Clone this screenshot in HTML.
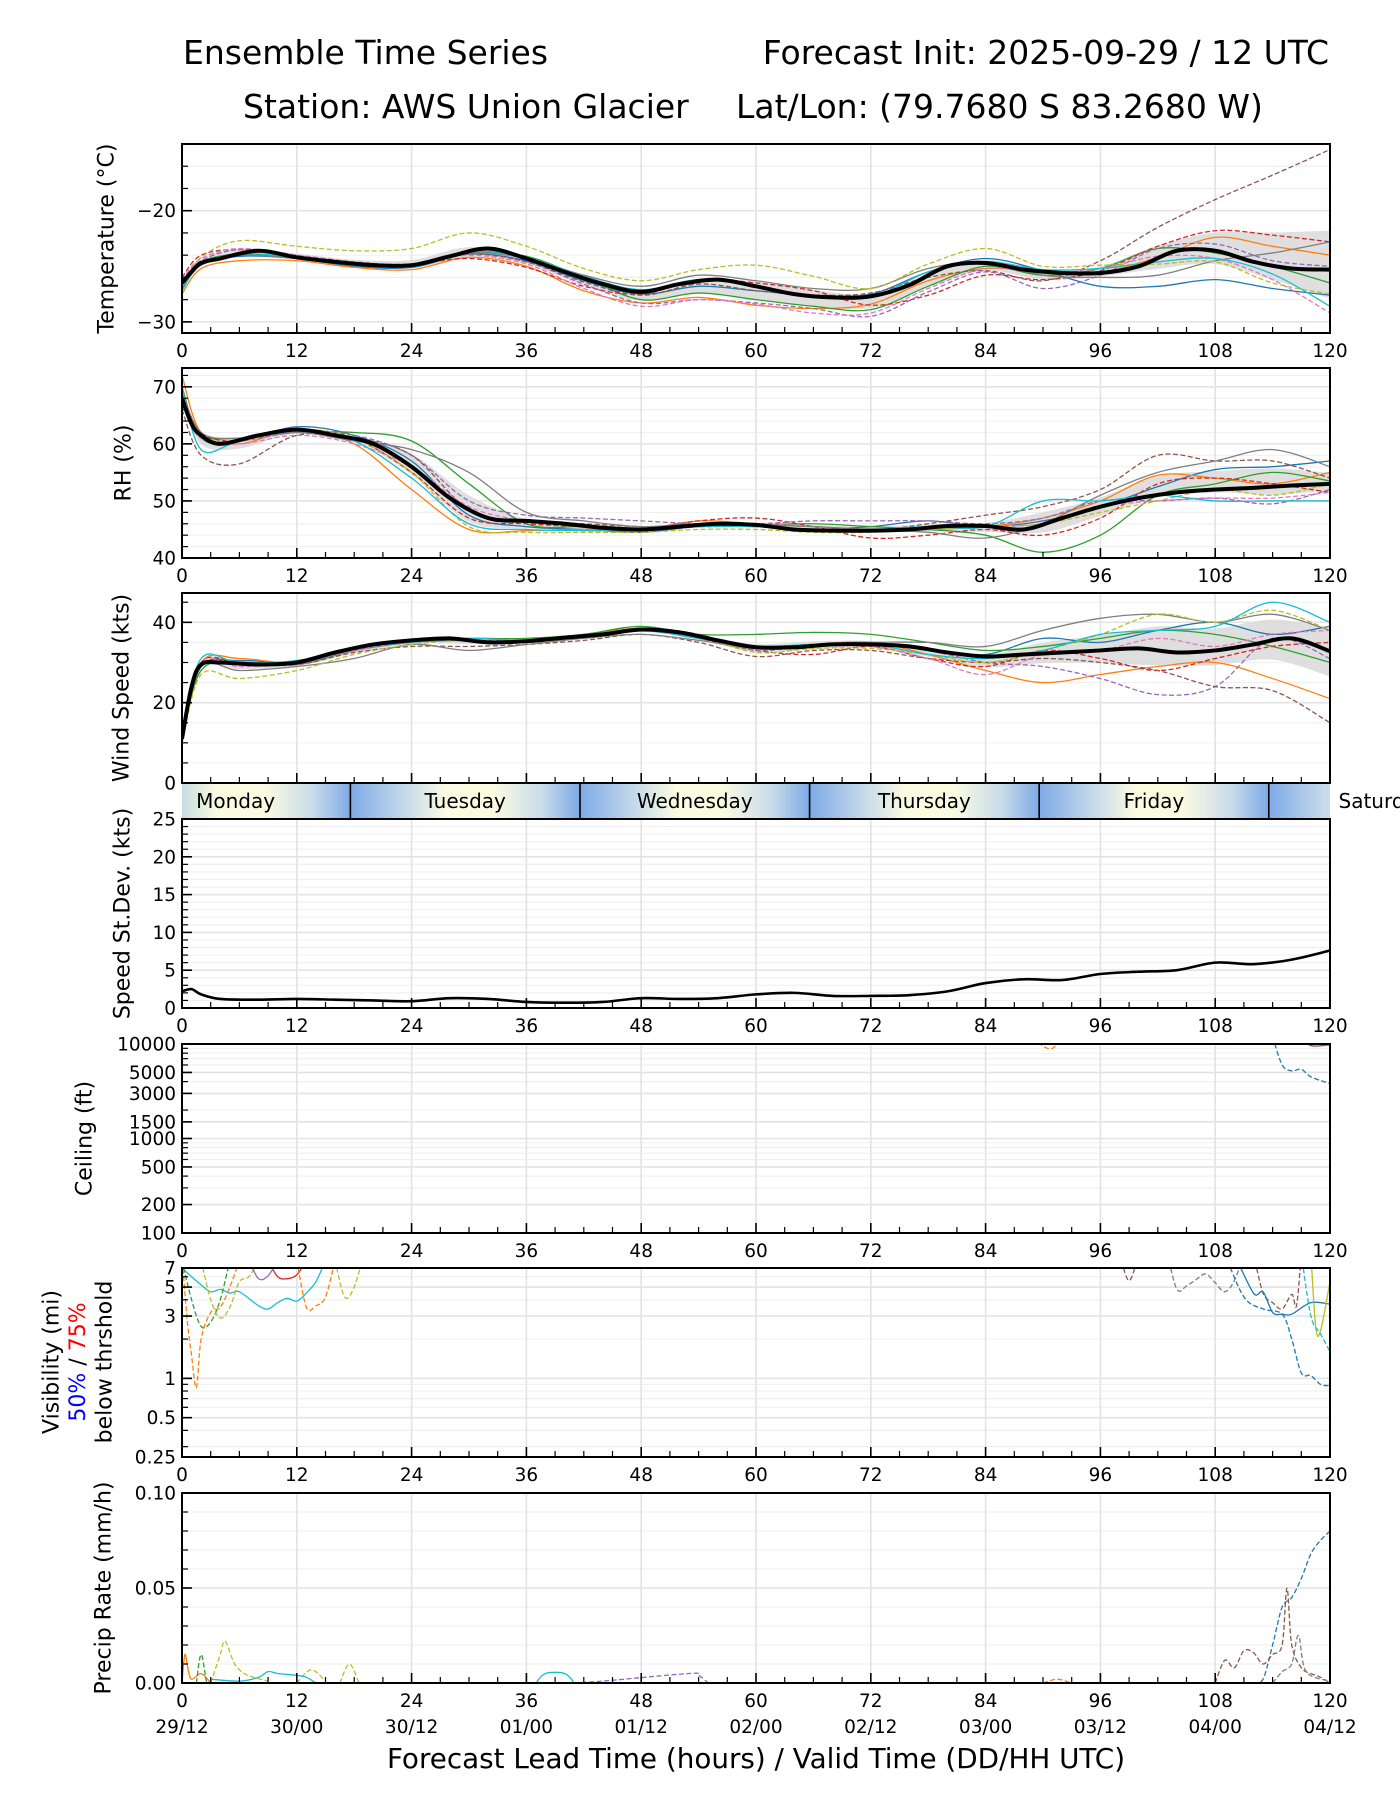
<!DOCTYPE html>
<html><head><meta charset="utf-8"><style>
html,body{margin:0;padding:0;background:#fff;}
svg{display:block;font-family:"DejaVu Sans","Liberation Sans",sans-serif;}
</style></head><body>
<svg id="fig" width="1400" height="1800" viewBox="0 0 1400 1800" xmlns="http://www.w3.org/2000/svg">
<defs>
<linearGradient id="dayGrad" gradientUnits="userSpaceOnUse" x1="182" y1="0" x2="1330" y2="0"></linearGradient>
</defs>
<text x="183" y="64" font-size="33">Ensemble Time Series</text>
<text x="1329" y="64" font-size="33" text-anchor="end">Forecast Init: 2025-09-29 / 12 UTC</text>
<text x="243" y="118" font-size="33">Station: AWS Union Glacier</text>
<text x="736" y="118" font-size="33">Lat/Lon: (79.7680 S 83.2680 W)</text>
<text x="756" y="1768" font-size="27.8" text-anchor="middle">Forecast Lead Time (hours) / Valid Time (DD/HH UTC)</text>
</svg>
<script>
// ---------- data ----------
const xTickHours = [0,12,24,36,48,60,72,84,96,108,120];
const dateLabels = ["29/12","30/00","30/12","01/00","01/12","02/00","02/12","03/00","03/12","04/00","04/12"];
const dayNames = ["Monday","Tuesday","Wednesday","Thursday","Friday","Saturday"];
const dayBoundaries = [17.6,41.6,65.6,89.6,113.6];
const meanHours = [0,1,2,4,8,12,16,20,24,28,32,36,40,44,48,52,56,60,64,68,72,76,80,84,88,92,96,100,104,108,112,116,120];
const memberHours = [0,2,6,12,18,24,30,36,42,48,54,60,66,72,78,84,90,96,102,108,114,120];
const memberColors = ["#1f77b4","#ff7f0e","#2ca02c","#d62728","#9467bd","#8c564b","#e377c2","#7f7f7f","#bcbd22","#17becf"];
const memberDashed = [false,false,false,true,true,true,true,false,true,false];

const tempMean = [-26.5,-25.5,-24.7,-24.3,-23.6,-24.2,-24.6,-24.9,-24.9,-24.1,-23.4,-24.3,-25.5,-26.6,-27.3,-26.6,-26.2,-26.8,-27.5,-27.8,-27.7,-26.7,-25.0,-24.7,-25.3,-25.6,-25.6,-25.0,-23.6,-23.6,-24.6,-25.2,-25.3];
const tempM0 = [-27,-24.9,-24.1,-24.3,-25,-25.1,-23.9,-24.5,-26.3,-27.5,-26.8,-27.2,-27.6,-27.5,-25.5,-24.3,-25.4,-26.8,-26.8,-26.2,-27.0,-27.6];
const tempM1 = [-27.5,-25.2,-24.5,-24.5,-25.1,-25.3,-24.2,-25,-27.2,-28.3,-27.8,-28.5,-28.8,-28.4,-26.3,-25.2,-25.4,-25.5,-24.2,-22.4,-23.2,-24.0];
const tempM2 = [-26.5,-24.6,-23.9,-24.2,-24.7,-24.8,-23.7,-24.1,-26.0,-28.0,-27.4,-28.0,-28.6,-28.9,-26.8,-25.0,-25.8,-25.2,-23.4,-23.8,-25.0,-26.5];
const tempM3 = [-26,-24,-23.5,-24.1,-24.7,-24.8,-24.3,-25.1,-26.8,-27.5,-26.2,-26.5,-27.2,-28.5,-27.6,-25.8,-26.2,-25.4,-23.2,-21.8,-22.2,-22.8];
const tempM4 = [-26.3,-24.5,-23.5,-24.0,-24.6,-24.8,-23.8,-24.6,-26.6,-28.3,-28.0,-28.3,-28.8,-29.5,-27.3,-25.5,-27.0,-25.8,-23.4,-23.0,-24.5,-25.0];
const tempM5 = [-26.5,-24.8,-24,-24.3,-24.9,-25,-23.9,-24.6,-26.4,-27.6,-26.6,-27.2,-27.6,-27.4,-26.0,-25.4,-26.3,-24.5,-21.5,-19.0,-16.8,-14.5];
const tempM6 = [-26.2,-24.3,-23.4,-24,-24.7,-24.8,-24.0,-24.8,-27.0,-28.6,-28.0,-28.4,-29.2,-29.2,-27.0,-25.2,-25.6,-25.2,-24.1,-24.3,-26.2,-29.2];
const tempM7 = [-26.5,-24.7,-24,-24.3,-24.9,-25,-23.8,-24.3,-25.8,-26.8,-25.8,-26.3,-27.0,-27.0,-25.2,-24.6,-25.8,-26.0,-25.8,-24.5,-23.8,-22.8];
const tempM8 = [-26.8,-24.2,-22.7,-23.2,-23.6,-23.4,-22.0,-23.2,-25.2,-26.3,-25.3,-24.9,-25.9,-27.0,-24.8,-23.4,-25.0,-24.9,-24.8,-24.6,-26.5,-27.5];
const tempM9 = [-27.2,-24.8,-23.9,-24.2,-24.9,-25.0,-23.7,-24.2,-25.9,-27.1,-26.2,-26.8,-27.7,-27.8,-25.5,-24.6,-25.3,-25.2,-24.6,-24.3,-25.7,-28.6];

const rhMean = [68,63.5,61.5,60,61.5,62.5,61.5,60,56,50.5,47,46.5,46,45.3,45.0,45.5,46,45.8,45,44.8,44.8,45,45.6,45.6,45,47,49,50.5,51.5,52,52.3,52.7,53];
const rhM0 = [70,61,60.5,63,61.5,57,47.5,45.5,45,44.5,45.5,45.5,45,45.5,46.5,45.5,46.5,49,52.5,55.5,56,57];
const rhM1 = [72,62,60,62.5,60,52,45,44.8,45,45,46.5,46,45.5,45,45,45.5,47,50,54.5,54,53,55];
const rhM2 = [67,61.5,61,62,62,60.5,53,46,45.5,45,45.5,45.8,46,45.5,45,44,41,44,51,53,55,53.5];
const rhM3 = [69,62,60.5,62.5,61,55,47,46,45.5,45,46.5,47,45.5,43.5,44,45,44,47,53,54,53,51.5];
const rhM4 = [67,61,60.5,62,61.5,58,50,47.5,47,46.5,46,46,46.5,46.5,46.5,46,47,50,50,50.5,49.5,52];
const rhM5 = [66,58,56.5,61.5,61,58,48.5,46.5,46,45.5,45.5,45.5,45,44.8,46,47.5,49,52,58,57,57,54];
const rhM6 = [68,61,60,61.5,60,56,49,46.5,45.5,45,45.5,46,45.5,45,45,45.5,46,49,50,50.5,50.5,51.5];
const rhM7 = [69,62,61,62,60.5,59,55,48,46.5,45.5,46,45.8,45.5,45,44.5,43.5,46,51,55,57,59,56];
const rhM8 = [68,61.5,60.5,62.5,61,55,45.5,44.5,44.5,44.5,45,45,44.5,44.5,45,45.5,46,48,50,52,51,53];
const rhM9 = [70,59,60.5,62.5,60.5,54,46,45,44.8,44.8,45.5,45.5,45,45,45.5,45.5,50,50,51,50,50,50];

const windMean = [11,24,29.5,30,29.5,30,32.5,34.5,35.5,36,35,35.3,36.2,37,38.2,37.5,35.5,33.8,33.8,34.5,34.5,34,32.5,31.5,32,32.5,33,33.5,32.5,33,34.5,36,32.8];
const windM0 = [12,29,30.5,30,33,35,35.5,35,36.5,38,36,34,34.5,35,33,32,36,35,38,40,37,39];
const windM1 = [10,30,31,30,33.5,35.5,36,35.5,37,38.5,36.5,34,34.5,35,32,28,25,27,29,30,26,21];
const windM2 = [11,28,30,29.5,33,35.5,36,36,37,39,37,37,37.5,37,35,33,34,36,38,37,34,30];
const windM3 = [12,30,30,30,33.5,35.5,35.5,35,36.5,38,36,33,32,34,31,29,33,31,28,31,34,35];
const windM4 = [11,29,29.5,29.5,33,35.5,35.5,35.5,36.5,38.5,37,33,34.5,34.5,33,30,29,26,22,24,36,31];
const windM5 = [10,29,30,29.5,32.5,34,34,34.5,35.5,37,35,31.5,33,33,31,30,31,30,28,24,23,15];
const windM6 = [11,30,29,30,33,35,36,35.5,36.5,38,36.5,33.5,34,34,31,27,32,33,36,34,37,38];
const windM7 = [11,29,28,29,31,34.5,33,34.5,36,37,35.5,33.5,34.5,35,35,34,38,41,42,40,42,38];
const windM8 = [10,27,26,28,32,34.5,35.5,35,36.5,38.5,36.5,32.5,33.5,33.5,32,30,33,37,42,40,43,38];
const windM9 = [12,31,30,30.5,33.5,35,36,35.5,36.5,38,36,34,34.5,34.5,32,31,33,37,38,39,45,40];

const sdValues = [2.2,2.5,1.8,1.2,1.1,1.2,1.1,1.0,0.9,1.3,1.2,0.8,0.7,0.8,1.3,1.2,1.3,1.8,2.0,1.6,1.6,1.7,2.2,3.3,3.8,3.7,4.5,4.8,5.0,6.0,5.8,6.4,7.6];

const ceilOrange = [[89,12000],[90,9500],[91,9000],[92,12000]];
const ceilGray = [[108,12000],[109,9800],[110,12000]];
const ceilBlue = [[114,12000],[115,6000],[116,5200],[117,5400],[118,4500],[120,3800]];
const ceilBrown = [[117,12000],[118,9600],[120,9800]];

const visCyan = [[0,7],[1,6],[2,5.2],[3,4.6],[4,4.8],[5,4.5],[6,4.6],[8,3.6],[9,3.4],[10,3.8],[11,4.1],[12,3.9],[13,4.5],[14,5.5],[15,8]];
const visOrange = [[0,9],[0.5,3],[1,1.5],[1.5,0.85],[2,2],[3,3.2],[4,3.5],[5,5],[6,8]];
const visGreen = [[0,8],[1,4],[2,2.5],[3,2.7],[4,4],[5,8]];
const visOlive = [[2,8],[3,4],[4,2.9],[5,3.5],[6,5.5],[7,6],[8,8]];
const visOlive2 = [[16,8],[17,4.2],[18,5],[19,9]];
const visRed = [[9,8],[10,6],[11,5.8],[12,6.2],[13,8]];
const visOrange2 = [[12,8],[13,3.5],[14,3.6],[15,4.2],[16,8]];
const visPurple = [[7,8],[8,5.8],[9,6.1],[10,8]];
const visBrown = [[98,9],[99,5.6],[100,9]];
const visGray = [[103,9],[104,4.8],[105,5.1],[106,5.7],[107,6.3],[108,5.4],[109,4.6],[110,5.6],[111,9]];
const visBrown2 = [[112,9],[113,4.5],[114,3.8],[115,3.4],[116,4.4],[116.5,3.6],[117,9]];
const visBlue = [[110,9],[112,4.5],[113,4.6],[114,3.2],[115,3.1],[116,3.1],[118,3.8],[120,3.7]];
const visBlueDash = [[109,9],[111,4.2],[113,3.4],[115,3.1],[116,2],[117,1.1],[118,1.05],[119,0.9],[120,0.88]];
const visOliveSolid = [[118,9],[118.5,2.5],[119,2.3],[120,5.5]];
const visCyanDash = [[117,9],[118,3],[119,2.2],[120,1.6]];

const prBlue = [[112,0],[113,0.002],[114,0.02],[115,0.04],[116,0.045],[117,0.055],[118,0.068],[119,0.075],[120,0.08]];
const prBrown = [[108,0],[109,0.012],[110,0.008],[111,0.017],[112,0.016],[113,0.01],[114,0.015],[115,0.02],[115.5,0.05],[116,0.02],[117,0.008],[118,0.005],[119,0.003],[120,0]];
const prGray = [[114,0],[115,0.006],[116,0.01],[116.7,0.025],[117.5,0.006],[120,0.001]];
const prOrange = [[0,0],[0.3,0.015],[0.6,0.008],[1,0.002],[2,0.005],[3,0]];
const prGreen = [[1.5,0],[2,0.015],[2.6,0],[3,0]];
const prOlive = [[3,0],[4,0.015],[4.5,0.022],[5.5,0.01],[6.5,0.005],[7.5,0.003],[9,0.001]];
const prOlive2 = [[12,0],[13.5,0.007],[15,0.001]];
const prOlive3 = [[16.5,0],[17.5,0.01],[18.5,0]];
const prCyan = [[3,0.002],[6,0.001],[8,0.003],[9,0.006],[10,0.005],[12,0.004],[13,0.003],[14,0]];
const prCyan2 = [[37,0],[38,0.005],[40,0.005],[41,0]];
const prPurple = [[41,0],[44,0.001],[53,0.005],[54,0.004],[55,0]];
const prOrange2 = [[90,0],[91.5,0.002],[93,0]];

// ---------- drawing ----------
const NS = 'http://www.w3.org/2000/svg';
const svg = document.getElementById('fig');
const X0 = 182, X1 = 1330;
function xs(h){ return X0 + h*(X1-X0)/120; }
function mk(tag, name, attrs, parent){
  const e = document.createElementNS(NS, tag);
  
  
  for (const k in attrs) e.setAttribute(k, attrs[k]);
  (parent||svg).appendChild(e);
  return e;
}
function smooth(pts){
  if (!pts.length) return '';
  let d = 'M'+pts[0][0].toFixed(2)+','+pts[0][1].toFixed(2);
  for (let i=0;i<pts.length-1;i++){
    const p0=pts[Math.max(0,i-1)], p1=pts[i], p2=pts[i+1], p3=pts[Math.min(pts.length-1,i+2)];
    const c1=[p1[0]+(p2[0]-p0[0])/6, p1[1]+(p2[1]-p0[1])/6];
    const c2=[p2[0]-(p3[0]-p1[0])/6, p2[1]-(p3[1]-p1[1])/6];
    d+=' C'+c1[0].toFixed(2)+','+c1[1].toFixed(2)+' '+c2[0].toFixed(2)+','+c2[1].toFixed(2)+' '+p2[0].toFixed(2)+','+p2[1].toFixed(2);
  }
  return d;
}
function linY(top,bot,lo,hi){ return v => bot - (v-lo)/(hi-lo)*(bot-top); }
function logY(top,bot,lo,hi){ return v => bot - (Math.log(v)-Math.log(lo))/(Math.log(hi)-Math.log(lo))*(bot-top); }

function panel(cfg){
  const g = mk('g', cfg.name, {});
  const cid = 'clip-'+cfg.name;
  const cp = document.createElementNS(NS,'clipPath');
  cp.setAttribute('id', cid);
  const r = document.createElementNS(NS,'rect');
  r.setAttribute('x',X0); r.setAttribute('y',cfg.top); r.setAttribute('width',X1-X0); r.setAttribute('height',cfg.bot-cfg.top);
  cp.appendChild(r); svg.querySelector('defs').appendChild(cp);
  const y = cfg.y;
  cfg.minors.forEach(v => {
    mk('line','y-minor-grid',{x1:X0,x2:X1,y1:y(v),y2:y(v),stroke:'#f0f0f0','stroke-width':1.2},g);
  });
  cfg.majors.forEach(v => {
    mk('line','y-major-grid',{x1:X0,x2:X1,y1:y(v),y2:y(v),stroke:'#e3e3e3','stroke-width':1.6},g);
  });
  xTickHours.forEach(h => {
    mk('line','x-grid',{x1:xs(h),x2:xs(h),y1:cfg.top,y2:cfg.bot,stroke:'#e3e3e3','stroke-width':1.6},g);
  });
  const plot = mk('g', cfg.name+'-series', {'clip-path':'url(#'+cid+')'}, g);
  cfg.draw(plot, y);
  cfg.minors.forEach(v => {
    mk('line','y-minor-tick',{x1:X0,x2:X0+6,y1:y(v),y2:y(v),stroke:'#000','stroke-width':1.2},g);
  });
  cfg.majors.forEach((v,i) => {
    mk('line','y-major-tick',{x1:X0,x2:X0+10,y1:y(v),y2:y(v),stroke:'#000','stroke-width':1.6},g);
    const t = mk('text','y-tick-label',{x:X0-6,y:y(v)+6.5,'font-size':18.5,'text-anchor':'end'},g);
    t.textContent = cfg.labels[i];
  });
  for (let h=3; h<120; h+=3){
    if (h%12===0) continue;
    mk('line','x-minor-tick',{x1:xs(h),x2:xs(h),y1:cfg.bot,y2:cfg.bot-6,stroke:'#000','stroke-width':1.2},g);
  }
  xTickHours.forEach(h => {
    mk('line','x-major-tick',{x1:xs(h),x2:xs(h),y1:cfg.bot,y2:cfg.bot-10,stroke:'#000','stroke-width':1.6},g);
    if (!cfg.noXLabels){
      const t = mk('text','x-tick-label',{x:xs(h),y:cfg.bot+24,'font-size':18.5,'text-anchor':'middle'},g);
      t.textContent = String(h);
    }
  });
  mk('rect','plot-frame',{x:X0,y:cfg.top,width:X1-X0,height:cfg.bot-cfg.top,fill:'none',stroke:'#000','stroke-width':2},g);
  if (cfg.ylabel){
    const cy=(cfg.top+cfg.bot)/2;
    const t = mk('text','y-axis-title',{x:cfg.lx,y:cy,'font-size':22,'text-anchor':'middle',transform:'rotate(-90 '+cfg.lx+' '+cy+')','dominant-baseline':'central'},g);
    t.textContent = cfg.ylabel;
  }
  return g;
}

function ensemble(plot, y, members, mean){
  const up=[], lo=[];
  memberHours.forEach((h,i) => {
    const vals = members.map(m => m[i]);
    const mu = vals.reduce((a,b)=>a+b,0)/vals.length;
    const sd = Math.sqrt(vals.reduce((a,b)=>a+(b-mu)*(b-mu),0)/vals.length);
    up.push([xs(h), y(mu+sd*0.75)]); lo.push([xs(h), y(mu-sd*0.75)]);
  });
  const dUp = smooth(up);
  const dLo = smooth(lo.slice().reverse()).replace(/^M/,'L');
  mk('path','spread-band',{d:dUp+' '+dLo+' Z',fill:'#d9d9d9','fill-opacity':0.85,stroke:'none'},plot);
  members.forEach((m,k) => {
    const p = mk('path','member-line',{d:smooth(memberHours.map((h,i)=>[xs(h),y(m[i])])),fill:'none',stroke:memberColors[k],'stroke-width':1.3},plot);
    if (memberDashed[k]) p.setAttribute('stroke-dasharray','5,2.5');
  });
  mk('path','ensemble-mean-line',{d:smooth(meanHours.map((h,i)=>[xs(h),y(mean[i])])),fill:'none',stroke:'#000','stroke-width':4},plot);
}
function ptsLine(plot, y, pts, color, dashed, name){
  const p = mk('path',name,{d:smooth(pts.map(q=>[xs(q[0]),y(q[1])])),fill:'none',stroke:color,'stroke-width':1.3},plot);
  if (dashed) p.setAttribute('stroke-dasharray','5,2.5');
}
function range(a,b,s){ const r=[]; for(let v=a; v<=b+1e-9; v+=s) r.push(+v.toFixed(4)); return r; }

panel({name:'temperature-panel',top:144,bot:333,y:linY(144,333,-31,-14),
  majors:[-30,-20],labels:['\u221230','\u221220'],minors:range(-30,-14,2),
  ylabel:'Temperature (\u00b0C)',lx:107,
  draw:(p,y)=>ensemble(p,y,[tempM0,tempM1,tempM2,tempM3,tempM4,tempM5,tempM6,tempM7,tempM8,tempM9],tempMean)});
panel({name:'rh-panel',top:368,bot:558,y:linY(368,558,40,73.3),
  majors:[40,50,60,70],labels:['40','50','60','70'],minors:range(40,72,2),
  ylabel:'RH (%)',lx:124,
  draw:(p,y)=>ensemble(p,y,[rhM0,rhM1,rhM2,rhM3,rhM4,rhM5,rhM6,rhM7,rhM8,rhM9],rhMean)});
panel({name:'wind-panel',top:593,bot:783,y:linY(593,783,0,47.3),noXLabels:true,
  majors:[0,20,40],labels:['0','20','40'],minors:range(0,45,5),
  ylabel:'Wind Speed (kts)',lx:122,
  draw:(p,y)=>ensemble(p,y,[windM0,windM1,windM2,windM3,windM4,windM5,windM6,windM7,windM8,windM9],windMean)});
panel({name:'stdev-panel',top:819,bot:1008,y:linY(819,1008,0,25),
  majors:[0,5,10,15,20,25],labels:['0','5','10','15','20','25'],minors:range(0,25,1),
  ylabel:'Speed St.Dev. (kts)',lx:123,
  draw:(p,y)=>{ mk('path','stdev-line',{d:smooth(meanHours.map((h,i)=>[xs(h),y(sdValues[i])])),fill:'none',stroke:'#000','stroke-width':2.6},p); }});
panel({name:'ceiling-panel',top:1044,bot:1233,y:logY(1044,1233,100,10000),
  majors:[100,200,500,1000,1500,3000,5000,10000],labels:['100','200','500','1000','1500','3000','5000','10000'],
  minors:[300,400,600,700,800,900,2000,4000,6000,7000,8000,9000],
  ylabel:'Ceiling (ft)',lx:85,
  draw:(p,y)=>{
    ptsLine(p,y,ceilOrange,'#ff7f0e',true,'ceiling-member');
    ptsLine(p,y,ceilGray,'#7f7f7f',true,'ceiling-member');
    ptsLine(p,y,ceilBlue,'#1f77b4',true,'ceiling-member');
    ptsLine(p,y,ceilBrown,'#8c564b',false,'ceiling-member');
  }});
panel({name:'visibility-panel',top:1268,bot:1457,y:logY(1268,1457,0.25,7),
  majors:[0.25,0.5,1,3,5,7],labels:['0.25','0.5','1','3','5','7'],
  minors:[0.3,0.4,0.6,0.7,0.8,0.9,2,4,6],
  ylabel:null,
  draw:(p,y)=>{
    ptsLine(p,y,visCyan,'#17becf',false,'visibility-member');
    ptsLine(p,y,visOrange,'#ff7f0e',true,'visibility-member');
    ptsLine(p,y,visGreen,'#2ca02c',true,'visibility-member');
    ptsLine(p,y,visOlive,'#bcbd22',true,'visibility-member');
    ptsLine(p,y,visOlive2,'#bcbd22',true,'visibility-member');
    ptsLine(p,y,visRed,'#d62728',false,'visibility-member');
    ptsLine(p,y,visOrange2,'#ff7f0e',true,'visibility-member');
    ptsLine(p,y,visPurple,'#9467bd',false,'visibility-member');
    ptsLine(p,y,visBrown,'#8c564b',true,'visibility-member');
    ptsLine(p,y,visGray,'#7f7f7f',true,'visibility-member');
    ptsLine(p,y,visBrown2,'#8c564b',true,'visibility-member');
    ptsLine(p,y,visBlue,'#1f77b4',false,'visibility-member');
    ptsLine(p,y,visBlueDash,'#1f77b4',true,'visibility-member');
    ptsLine(p,y,visOliveSolid,'#bcbd22',false,'visibility-member');
    ptsLine(p,y,visCyanDash,'#17becf',true,'visibility-member');
  }});
panel({name:'precip-panel',top:1493,bot:1683,y:linY(1493,1683,0,0.1),
  majors:[0,0.05,0.1],labels:['0.00','0.05','0.10'],minors:range(0,0.1,0.01),
  ylabel:'Precip Rate (mm/h)',lx:104,
  draw:(p,y)=>{
    ptsLine(p,y,prBlue,'#1f77b4',true,'precip-member');
    ptsLine(p,y,prBrown,'#8c564b',true,'precip-member');
    ptsLine(p,y,prGray,'#7f7f7f',true,'precip-member');
    ptsLine(p,y,prOrange,'#ff7f0e',false,'precip-member');
    ptsLine(p,y,prGreen,'#2ca02c',true,'precip-member');
    ptsLine(p,y,prOlive,'#bcbd22',true,'precip-member');
    ptsLine(p,y,prOlive2,'#bcbd22',true,'precip-member');
    ptsLine(p,y,prOlive3,'#bcbd22',true,'precip-member');
    ptsLine(p,y,prCyan,'#17becf',false,'precip-member');
    ptsLine(p,y,prCyan2,'#17becf',false,'precip-member');
    ptsLine(p,y,prPurple,'#9467bd',true,'precip-member');
    ptsLine(p,y,prOrange2,'#ff7f0e',true,'precip-member');
  }});

dateLabels.forEach((s,i) => {
  const t = mk('text','date-tick-label',{x:xs(xTickHours[i]),y:1733,'font-size':18.5,'text-anchor':'middle'});
  t.textContent = s;
});

(function(){
  const cy = 1362;
  const a = mk('text','y-axis-title',{x:52,y:cy,'font-size':22,'text-anchor':'middle','dominant-baseline':'central',transform:'rotate(-90 52 '+cy+')'});
  a.textContent = 'Visibility (mi)';
  const b = mk('text','visibility-threshold-label',{x:78,y:cy,'font-size':22,'text-anchor':'middle','dominant-baseline':'central',transform:'rotate(-90 78 '+cy+')'});
  const s1 = document.createElementNS(NS,'tspan'); s1.setAttribute('fill','#0000ff'); s1.textContent='50%'; b.appendChild(s1);
  const s2 = document.createElementNS(NS,'tspan'); s2.textContent=' / '; b.appendChild(s2);
  const s3 = document.createElementNS(NS,'tspan'); s3.setAttribute('fill','#ff0000'); s3.textContent='75%'; b.appendChild(s3);
  const c = mk('text','y-axis-title',{x:105,y:cy,'font-size':22,'text-anchor':'middle','dominant-baseline':'central',transform:'rotate(-90 105 '+cy+')'});
  c.textContent = 'below thrshold';
})();

(function(){
  const grad = document.getElementById('dayGrad');
  const blue='#7eaae6', mid='#c9dcea', cream='#fbfbe2';
  const stops = [];
  const allB = [-6.4].concat(dayBoundaries).concat([137.6]);
  for (let i=0;i<allB.length-1;i++){
    const b = allB[i];
    stops.push([b,blue],[b+6,mid],[b+10,cream],[b+15,cream],[b+20,mid],[b+24,blue]);
  }
  const first = document.createElementNS(NS,'stop'); first.setAttribute('offset','0'); first.setAttribute('stop-color','#c6dce0');
  grad.appendChild(first);
  stops.forEach(s => {
    const off = (s[0])/120;
    if (off < 0.001 || off > 1.001) return;
    const st = document.createElementNS(NS,'stop');
    st.setAttribute('offset', Math.min(1,off).toFixed(4));
    st.setAttribute('stop-color', s[1]);
    grad.appendChild(st);
  });
  const g = mk('g','day-bar',{});
  mk('rect','day-bar-fill',{x:X0,y:783,width:X1-X0,height:36,fill:'url(#dayGrad)'},g);
  dayBoundaries.forEach(h => {
    mk('line','day-separator',{x1:xs(h),x2:xs(h),y1:783,y2:819,stroke:'#000','stroke-width':1.6},g);
  });
  dayNames.forEach((n,i) => {
    const t = mk('text','day-label',{x:xs(dayBoundaries[0]-12+24*i),y:808,'font-size':20,'text-anchor':'middle'},g);
    t.textContent = n;
  });
  mk('line','day-bar-top',{x1:X0,x2:X1,y1:783,y2:783,stroke:'#000','stroke-width':2},g);
  mk('line','day-bar-bottom',{x1:X0,x2:X1,y1:819,y2:819,stroke:'#000','stroke-width':2},g);
})();
</script>
</body></html>
